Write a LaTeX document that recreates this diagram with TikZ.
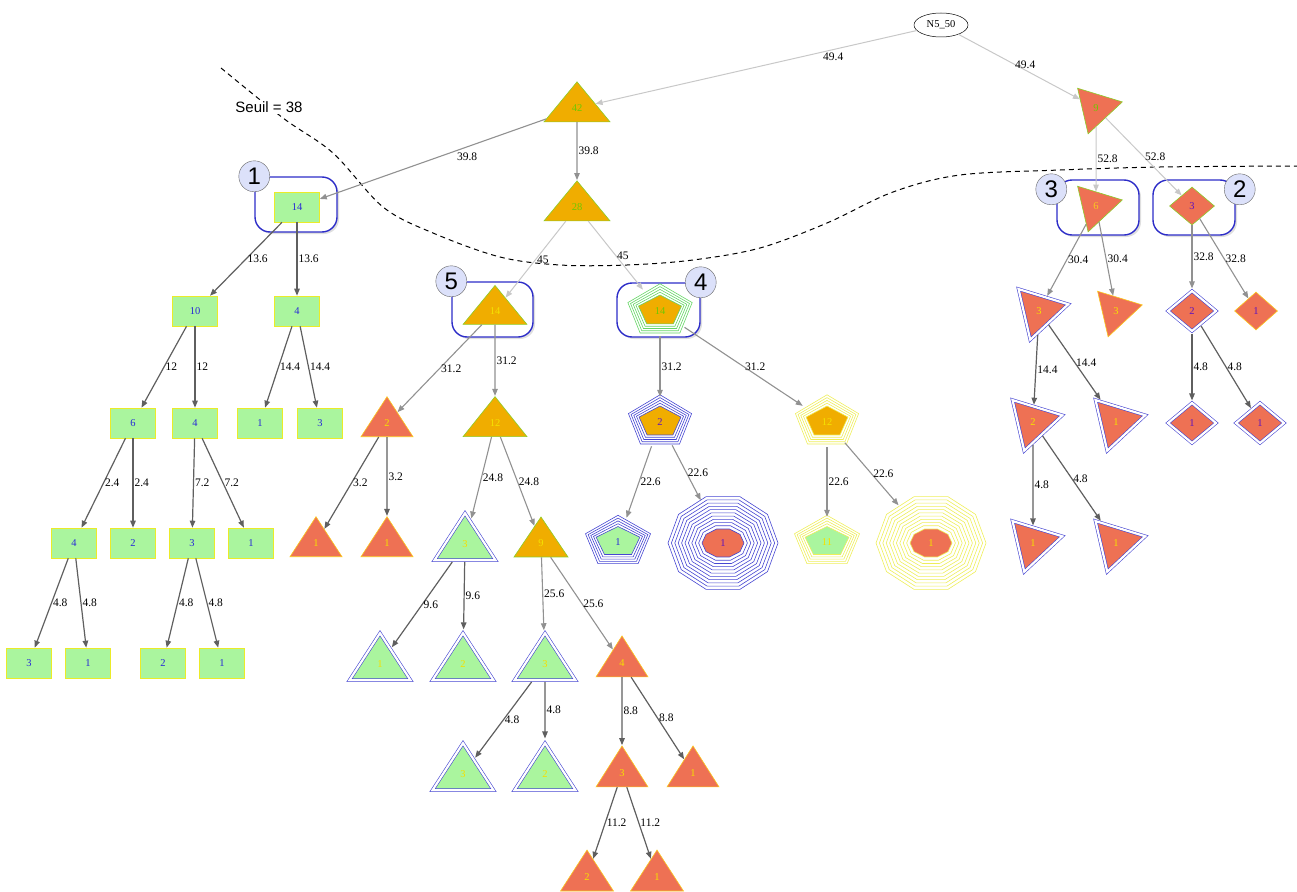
\documentclass[tikz,border=0pt]{standalone}
\usepackage{fontspec}
\setmainfont{Liberation Serif}
\setsansfont{Liberation Sans}
\usepackage{tikz}
\usetikzlibrary{calc,arrows.meta,shapes.geometric,backgrounds,shadows,positioning}

\definecolor{fillorange}{RGB}{240,173,0}
\definecolor{fillred}{RGB}{238,113,84}
\definecolor{fillgreen}{RGB}{170,245,158}
\definecolor{lineyellow}{RGB}{235,235,40}
\definecolor{lineorange}{RGB}{250,200,30}
\definecolor{lineygreen}{RGB}{140,205,40}
\definecolor{txtgreen}{RGB}{110,200,0}
\definecolor{txtyellow}{RGB}{245,225,0}
\definecolor{txtblue}{RGB}{40,40,215}
\definecolor{txtpurple}{RGB}{95,20,190}
\definecolor{ringblue}{RGB}{70,70,210}
\definecolor{ringgreen}{RGB}{100,215,100}
\definecolor{ringyellow}{RGB}{238,238,90}
\definecolor{boxblue}{RGB}{45,45,200}
\definecolor{badgefill}{RGB}{220,225,250}
\definecolor{edgelight}{RGB}{200,200,200}
\definecolor{edgemid}{RGB}{145,145,145}
\definecolor{edgedark}{RGB}{95,95,95}

%% stretched pentagon / decagon outlines around a node centre
\newcommand{\pentpath}[4]{\draw[#4, shift={(#1.center)}] plot[samples=6, domain=90:450] ({(#2)*cos(\x)},{-(#3)*sin(\x)}) -- cycle;}
\newcommand{\decapath}[4]{\draw[#4, shift={(#1.center)}] plot[samples=11, domain=0:360] ({(#2)*cos(\x)},{-(#3)*sin(\x)}) -- cycle;}

\begin{document}
\begin{tikzpicture}[x=1pt,y=-1pt,font=\fontsize{10.5}{12}\selectfont,
	rootnode/.style={ellipse,draw=black,line width=.5pt,minimum width=54pt,minimum height=24pt,inner sep=0pt},
	rectnode/.style={rectangle,fill=fillgreen,draw=lineyellow,text=txtblue,line width=.6pt,minimum width=45pt,minimum height=30pt,inner sep=0pt},
	tri/.style={isosceles triangle,shape border rotate=90,isosceles triangle stretches,inner sep=0pt,line width=.6pt},
	redtri/.style={tri,fill=fillred,draw=lineorange,text=txtyellow,minimum width=52pt,minimum height=40pt},
	orgtri/.style={tri,fill=fillorange,draw=lineygreen,text=txtyellow,minimum width=64pt,minimum height=40pt},
	grntri/.style={tri,fill=fillgreen,draw=ringblue,double=white,double distance=2.2pt,text=txtyellow,outer sep=1.8pt,minimum width=61pt,minimum height=47pt},
	rottri/.style={regular polygon,regular polygon sides=3,shape border rotate=43,inner sep=0pt,line width=.6pt,fill=fillred,text=txtyellow,minimum size=54pt},
	dbl/.style={draw=ringblue,double=white,double distance=2.2pt,outer sep=1.8pt},
	diam/.style={diamond,aspect=1.2,inner sep=0pt,line width=.6pt,fill=fillred,text=txtpurple,minimum width=45pt,minimum height=38pt},
	pnode/.style={ellipse,inner sep=0pt,minimum width=63pt,minimum height=50pt},
	onode/.style={ellipse,inner sep=0pt,minimum width=110pt,minimum height=93pt},
	clusterbox/.style={rectangle,draw=boxblue,line width=1.4pt,rounded corners=15pt,fill=white,minimum width=82pt,minimum height=55pt,drop shadow={shadow xshift=2pt,shadow yshift=-2pt,opacity=.25}},
	badge/.style={circle,draw=black!60,fill=badgefill,minimum size=31pt,inner sep=0pt,font=\sffamily\fontsize{24}{24}\selectfont},
	lbl/.style={font=\fontsize{11.5}{13}\selectfont,inner sep=1pt,pos=.5,anchor=west},
	lightE/.style={draw=edgelight,line width=1pt,-{Triangle[length=7pt,width=5.5pt]}},
	midE/.style={draw=edgemid,line width=1.1pt,-{Triangle[length=7pt,width=5.5pt]}},
	darkE/.style={draw=edgedark,line width=1.2pt,-{Triangle[length=7pt,width=5.5pt]}}]
	\useasboundingbox (0,0) rectangle (1297,891);

	%%root and upper level
	\node[rootnode] (root) at (941,25) {N5\_50};
	\node[orgtri,minimum width=66pt,text=txtgreen] (A42) at (577,108) {42};
	\node[orgtri,minimum width=66pt,text=txtgreen] (A28) at (577,207) {28};
	\node[rottri,draw=lineygreen,text=txtgreen] (B9) at (1096,108) {9};

	%%cluster 1 (rectangles)
	\node[rectnode] (N14) at (297,207) {14};
	\node[rectnode] (R10) at (195,311) {10};
	\node[rectnode] (R4) at (297,311) {4};
	\node[rectnode] (R6) at (133,423) {6};
	\node[rectnode] (R4b) at (195,423) {4};
	\node[rectnode] (R1) at (260,423) {1};
	\node[rectnode] (R3) at (320,423) {3};
	\node[rectnode] (R4c) at (74,543) {4};
	\node[rectnode] (R2) at (133,543) {2};
	\node[rectnode] (R3b) at (192,543) {3};
	\node[rectnode] (R1b) at (251,543) {1};
	\node[rectnode] (R3c) at (29,663) {3};
	\node[rectnode] (R1c) at (88,663) {1};
	\node[rectnode] (R2b) at (163,663) {2};
	\node[rectnode] (R1d) at (222,663) {1};

	%%cluster 5 (triangles)
	\node[orgtri,minimum height=39pt,draw=lineygreen] (T14) at (495,311) {14};
	\node[redtri] (T2) at (387,423) {2};
	\node[orgtri] (T12) at (495,423) {12};
	\node[redtri] (T1a) at (316,543) {1};
	\node[redtri] (T1b) at (387,543) {1};
	\node[grntri] (G3) at (465,544) {3};
	\node[orgtri,minimum width=54pt] (T9) at (541,543) {9};
	\node[grntri] (G1) at (380,664) {1};
	\node[grntri] (G2) at (463,664) {2};
	\node[grntri] (G3b) at (545,664) {3};
	\node[redtri,minimum height=41pt] (T4) at (622,663) {4};
	\node[grntri] (G3c) at (463,774) {3};
	\node[grntri] (G2c) at (545,774) {2};
	\node[redtri,minimum height=41pt] (T3) at (622,773) {3};
	\node[redtri,minimum height=41pt] (T1c) at (693,773) {1};
	\node[redtri,minimum width=53pt,minimum height=41pt] (T2d) at (587,877) {2};
	\node[redtri,minimum width=53pt,minimum height=41pt] (T1d) at (657,877) {1};

	%%cluster 4 (pentagons)
	\node[pnode,minimum width=64pt,text=txtgreen] (P14) at (660,311) {14};
	\node[pnode,text=txtpurple] (P2) at (660,422) {2};
	\node[pnode,text=txtyellow] (P12) at (827,422) {12};
	\node[pnode,text=txtblue] (P1) at (618,542) {1};
	\node[onode,text=txtpurple] (O1) at (723,543) {1};
	\node[pnode,text=txtyellow] (P11) at (827,542) {11};
	\node[onode,text=txtyellow] (O1b) at (931,543) {1};

	%%cluster 3 (turned triangles)
	\node[rottri,draw=lineygreen,text=lineorange] (T6) at (1096,206) {6};
	\node[rottri,dbl,minimum size=60pt] (T3r) at (1039,311) {3};
	\node[rottri,draw=lineorange] (T3s) at (1116,311) {3};
	\node[rottri,dbl,minimum size=60pt] (T2r) at (1033,422) {2};
	\node[rottri,dbl,minimum size=60pt] (T1r) at (1116,422) {1};
	\node[rottri,dbl,minimum size=60pt] (T1s) at (1033,543) {1};
	\node[rottri,dbl,minimum size=60pt] (T1t) at (1116,543) {1};

	%%cluster 2 (diamonds)
	\node[diam,draw=lineygreen] (D3) at (1192,206) {3};
	\node[diam,dbl,minimum width=49.5pt,minimum height=41.5pt] (D2) at (1192,311) {2};
	\node[diam,draw=lineorange,minimum width=43pt] (D1) at (1256,311) {1};
	\node[diam,dbl,minimum width=49.5pt,minimum height=41.5pt] (D1b) at (1192,423) {1};
	\node[diam,dbl,minimum width=49.5pt,minimum height=41.5pt] (D1c) at (1260,423) {1};

	%%cluster frames and polygon outlines
	\begin{scope}[on background layer]
	\node[clusterbox] (box1) at (296,204.5) {};
	\node[clusterbox,minimum width=81pt] (box5) at (492.5,309.5) {};
	\node[clusterbox,minimum width=83pt,minimum height=54pt] (box4) at (658.5,310) {};
	\node[clusterbox] (box3) at (1098,207.5) {};
	\node[clusterbox] (box2) at (1194,207.5) {};
	\foreach \k in {1,...,4}{
		\pentpath{P14}{22.6+2.8*\k}{16+2.8*\k}{draw=ringgreen,line width=.6pt}
		\pentpath{P2}{22+2.8*\k}{16+2.8*\k}{draw=ringblue,line width=.6pt}
		\pentpath{P12}{22+2.8*\k}{16+2.8*\k}{draw=ringyellow,line width=.6pt}
		\pentpath{P1}{23+2.8*\k}{15.5+2.8*\k}{draw=ringblue,line width=.6pt}
		\pentpath{P11}{23+2.8*\k}{15.5+2.8*\k}{draw=ringyellow,line width=.6pt}
	}
	\foreach \k in {1,...,10}{
		\decapath{O1}{21+3.4*\k}{14.7+3.4*\k}{draw=ringblue,line width=.6pt}
		\decapath{O1b}{21+3.4*\k}{14.7+3.4*\k}{draw=ringyellow,line width=.6pt}
	}
	\pentpath{P14}{22.6}{16}{fill=fillorange,draw=ringgreen,line width=.6pt}
	\pentpath{P2}{22}{16}{fill=fillorange,draw=ringblue,line width=.6pt}
	\pentpath{P12}{22}{16}{fill=fillorange,draw=ringyellow,line width=.6pt}
	\pentpath{P1}{23}{15.5}{fill=fillgreen,draw=ringblue,line width=.6pt}
	\pentpath{P11}{23}{15.5}{fill=fillgreen,draw=ringyellow,line width=.6pt}
	\decapath{O1}{21}{14.7}{fill=fillred,draw=ringblue,line width=.6pt}
	\decapath{O1b}{21}{14.7}{fill=fillred,draw=ringyellow,line width=.6pt}
	\end{scope}

	%%numbered badges
	\node[badge] (n1) at (box1.north west) {1};
	\node[badge] (n5) at (box5.north west) {5};
	\node[badge] (n4) at (box4.north east) {4};
	\node[badge] (n3) at ($(box3.north west)+(-5,10)$) {3};
	\node[badge] (n2) at ($(box2.north east)+(4,10)$) {2};

	%%threshold line
	\draw[dash pattern=on 5pt off 4pt,line width=1pt] plot[smooth,tension=.55] coordinates {(221,68) (283,118) (333,153) (383,207) (433,233) (500,257) (560,265) (627,265) (693,260) (760,248) (827,223) (893,192) (960,175) (1060,170) (1160,167) (1297,166)};
	\node[font=\sffamily\fontsize{15}{15}\selectfont,fill=white,inner sep=1pt] (seuil) at (269,107) {Seuil = 38};

	%%edges
	\draw[lightE] (root) -- node[lbl,pos=.26,anchor=north,yshift=-2pt] {49.4} (A42);
	\draw[lightE] (root) -- node[lbl,pos=.55,anchor=south] {49.4} (B9);
	\draw[midE] (A42) -- node[lbl,pos=.4,anchor=north west] {39.8} (N14);
	\draw[midE] (A42) -- node[lbl] {39.8} (A28);
	\draw[lightE] (A28) -- node[lbl] {45} (T14);
	\draw[lightE] (A28) -- node[lbl] {45} (P14);
	\draw[lightE] (B9) -- node[lbl] {52.8} (T6);
	\draw[lightE] (B9) -- node[lbl] {52.8} (D3);

	\draw[darkE] (N14) -- node[lbl] {13.6} (R10);
	\draw[darkE] (N14) -- node[lbl] {13.6} (R4);
	\draw[darkE] (R10) -- node[lbl] {12} (R6);
	\draw[darkE] (R10) -- node[lbl] {12} (R4b);
	\draw[darkE] (R4) -- node[lbl] {14.4} (R1);
	\draw[darkE] (R4) -- node[lbl] {14.4} (R3);
	\draw[darkE] (R6) -- node[lbl] {2.4} (R4c);
	\draw[darkE] (R6) -- node[lbl] {2.4} (R2);
	\draw[darkE] (R4b) -- node[lbl] {7.2} (R3b);
	\draw[darkE] (R4b) -- node[lbl] {7.2} (R1b);
	\draw[darkE] (R4c) -- node[lbl] {4.8} (R3c);
	\draw[darkE] (R4c) -- node[lbl] {4.8} (R1c);
	\draw[darkE] (R3b) -- node[lbl] {4.8} (R2b);
	\draw[darkE] (R3b) -- node[lbl] {4.8} (R1d);

	\draw[midE] (T14) -- node[lbl] {31.2} (T2);
	\draw[midE] (T14) -- node[lbl] {31.2} (T12);
	\draw[darkE] (T2) -- node[lbl] {3.2} (T1a);
	\draw[darkE] (T2) -- node[lbl] {3.2} (T1b);
	\draw[midE] (T12) -- node[lbl] {24.8} (G3);
	\draw[midE] (T12) -- node[lbl] {24.8} (T9);
	\draw[darkE] (G3) -- node[lbl] {9.6} (G1);
	\draw[darkE] (G3) -- node[lbl] {9.6} (G2);
	\draw[midE] (T9) -- node[lbl] {25.6} (G3b);
	\draw[midE] (T9) -- node[lbl] {25.6} (T4);
	\draw[darkE] (G3b) -- node[lbl] {4.8} (G3c);
	\draw[darkE] (G3b) -- node[lbl] {4.8} (G2c);
	\draw[darkE] (T4) -- node[lbl] {8.8} (T3);
	\draw[darkE] (T4) -- node[lbl] {8.8} (T1c);
	\draw[darkE] (T3) -- node[lbl] {11.2} (T2d);
	\draw[darkE] (T3) -- node[lbl] {11.2} (T1d);

	\draw[midE] (P14) -- node[lbl] {31.2} (P2);
	\draw[midE] (P14) -- node[lbl] {31.2} (P12);
	\draw[midE] (P2) -- node[lbl] {22.6} (P1);
	\draw[midE] (P2) -- node[lbl] {22.6} (O1);
	\draw[midE] (P12) -- node[lbl] {22.6} (P11);
	\draw[midE] (P12) -- node[lbl] {22.6} (O1b);

	\draw[midE] (T6) -- node[lbl] {30.4} (T3r);
	\draw[midE] (T6) -- node[lbl] {30.4} (T3s);
	\draw[darkE] (T3r) -- node[lbl] {14.4} (T2r);
	\draw[darkE] (T3r) -- node[lbl] {14.4} (T1r);
	\draw[darkE] (T2r) -- node[lbl] {4.8} (T1s);
	\draw[darkE] (T2r) -- node[lbl] {4.8} (T1t);

	\draw[midE] (D3) -- node[lbl] {32.8} (D2);
	\draw[midE] (D3) -- node[lbl] {32.8} (D1);
	\draw[darkE] (D2) -- node[lbl] {4.8} (D1b);
	\draw[darkE] (D2) -- node[lbl] {4.8} (D1c);
\end{tikzpicture}
\end{document}
